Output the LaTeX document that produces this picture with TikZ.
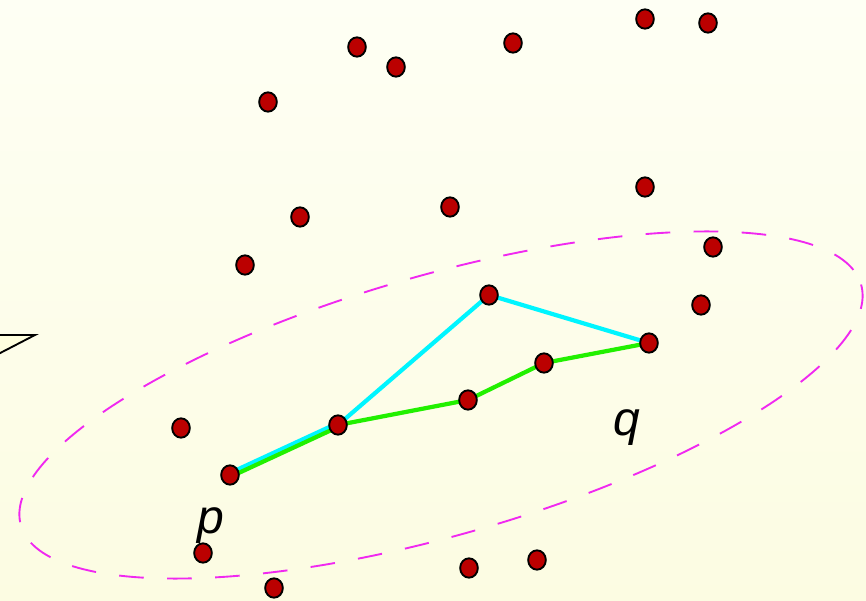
\documentclass[tikz,border=0pt]{standalone}
\usepackage{fontspec}
\setsansfont{Liberation Sans}
\usepackage{xcolor}
\usepackage{tikz}
\usetikzlibrary{positioning,shapes.geometric}

\definecolor{dotred}{RGB}{187,0,0}
\definecolor{pathgreen}{RGB}{34,240,0}
\definecolor{pathcyan}{RGB}{0,245,255}
\definecolor{zonemagenta}{RGB}{240,40,240}
\definecolor{bgtop}{RGB}{254,255,244}
\definecolor{bgbot}{RGB}{252,252,226}
\definecolor{trifill}{RGB}{255,255,222}

\begin{document}
\begin{tikzpicture}[
  x=0.03cm, y=-0.03cm,
  dot/.style={ellipse, draw=black, line width=1.6pt, fill=dotred,
              inner sep=0pt, minimum width=0.53cm, minimum height=0.58cm},
  greenpath/.style={pathgreen, line width=3.6pt},
  cyanpath/.style={pathcyan, line width=3.6pt},
  zone/.style={zonemagenta, line width=1.6pt, dash pattern=on 21pt off 20pt},
  lbl/.style={font=\sffamily\itshape\fontsize{41}{48}\selectfont, inner sep=0pt, anchor=base}
]
\useasboundingbox (0,0) rectangle (866,601);
\shade[top color=bgtop, bottom color=bgbot] (0,0) rectangle (866,601);

% cut-off triangle on the left edge
\begin{scope}
  \clip (0,0) rectangle (866,601);
  \draw[line width=1.6pt, fill=trifill] (35,335) -- (-50,335) -- (-50,379) -- cycle;
\end{scope}

% the dashed region
\draw[zone, rotate around={16:(441,405)}] (441,405) ellipse [x radius=437, y radius=130];

% points on the two paths
\coordinate (p)  at (230,475);
\coordinate (m1) at (338,425);
\coordinate (m2) at (468,400);
\coordinate (m3) at (544,363);
\coordinate (r)  at (489,295);
\coordinate (q)  at (649,343);

% paths from p to q
\draw[cyanpath, transform canvas={yshift=1.7pt}] (p) -- (m1);
\draw[greenpath, transform canvas={yshift=-1.7pt}] (p) -- (m1);
\draw[cyanpath] (m1) -- (r) -- (q);
\draw[greenpath] (m1) -- (m2) -- (m3) -- (q);

\foreach \c in {p,m1,m2,m3,r,q}
  \node[dot] (\c dot) at (\c) {};

% remaining points
\foreach \x/\y [count=\i] in {357/47, 396/67, 513/43, 645/19, 708/23, 268/102,
    645/187, 300/217, 450/207, 713/247, 245/265, 701/305,
    181/428, 203/553, 274/588, 469/568, 537/560}
  \node[dot] (s\i) at (\x,\y) {};

\node[lbl] (plabel) at (211,533) {p};
\node[lbl] (qlabel) at (627,436) {q};
\end{tikzpicture}
\end{document}
